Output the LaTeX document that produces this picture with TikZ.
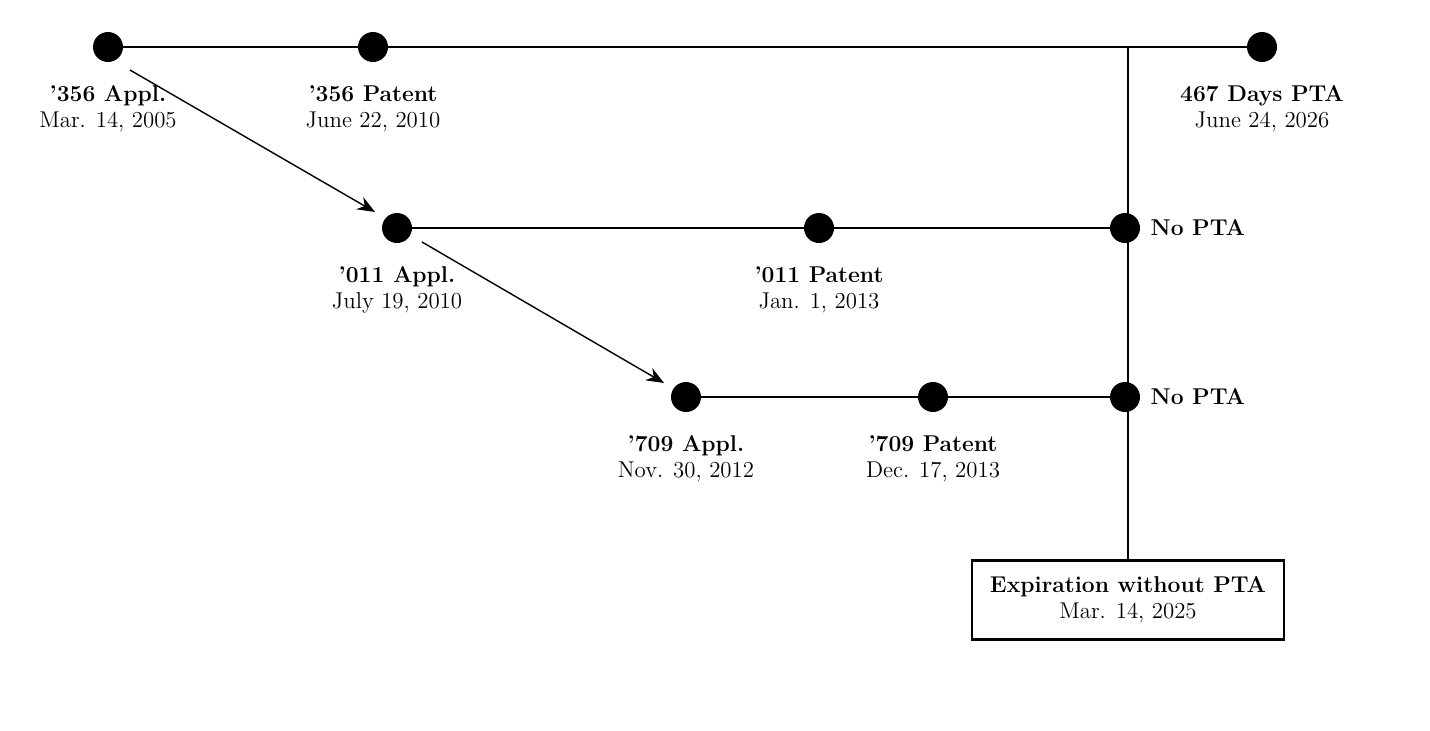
\documentclass[tikz,border=0pt]{standalone}
\usetikzlibrary{positioning,arrows.meta}
\begin{document}
\begin{tikzpicture}
\tikzstyle{dot}=[circle,fill=black,minimum size=0.6cm,inner sep=0pt]
\tikzstyle{lbl}=[align=center,font=\fontsize{13}{15}\selectfont,inner sep=0pt]
\useasboundingbox (0,0) rectangle (28.6,-14.6);
\node[dot] (A_1) at (2.16,-0.94) {};
\node[dot] (P_1) at (7.46,-0.94) {};
\node[dot] (E_1) at (25.24,-0.94) {};
\node[dot] (A_2) at (7.94,-4.56) {};
\node[dot] (P_2) at (16.38,-4.56) {};
\node[dot] (E_2) at (22.5,-4.56) {};
\node[dot] (A_3) at (13.72,-7.94) {};
\node[dot] (P_3) at (18.66,-7.94) {};
\node[dot] (E_3) at (22.5,-7.94) {};
\coordinate (T) at (22.56,-0.94);
\node[draw,line width=1.6pt,lbl,minimum width=6.24cm,minimum height=1.58cm] (X) at (22.56,-12.0)
  {\textbf{Expiration without PTA}\\Mar. 14, 2025};
\node[lbl,below=0.45cm of A_1] {\textbf{'356 Appl.}\\Mar. 14, 2005};
\node[lbl,below=0.45cm of P_1] {\textbf{'356 Patent}\\June 22, 2010};
\node[lbl,below=0.45cm of E_1] {\textbf{467 Days PTA}\\June 24, 2026};
\node[lbl,below=0.45cm of A_2] {\textbf{'011 Appl.}\\July 19, 2010};
\node[lbl,below=0.45cm of P_2] {\textbf{'011 Patent}\\Jan. 1, 2013};
\node[lbl,below=0.45cm of A_3] {\textbf{'709 Appl.}\\Nov. 30, 2012};
\node[lbl,below=0.45cm of P_3] {\textbf{'709 Patent}\\Dec. 17, 2013};
\node[lbl,right=0.2cm of E_2] {\textbf{No PTA}};
\node[lbl,right=0.2cm of E_3] {\textbf{No PTA}};
\draw[line width=1.1pt] (A_1) -- (P_1) -- (E_1);
\draw[line width=1.6pt] (A_2) -- (P_2) -- (E_2);
\draw[line width=1.1pt] (A_3) -- (P_3) -- (E_3);
\draw[line width=1.1pt] (T) -- (X.north);
\draw[-{Stealth[length=10pt,width=8pt]},line width=0.8pt] (2.6,-1.4) -- (7.5,-4.24);
\draw[-{Stealth[length=10pt,width=8pt]},line width=0.8pt] (8.44,-4.84) -- (13.28,-7.66);
\end{tikzpicture}
\end{document}
